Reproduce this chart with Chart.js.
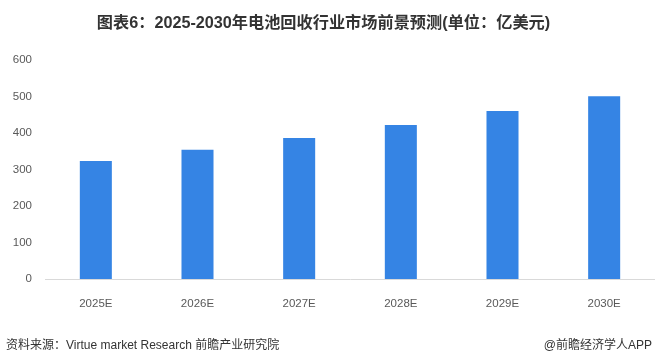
<!DOCTYPE html>
<html>
<head>
<meta charset="utf-8">
<script src="https://cdn.jsdelivr.net/npm/chart.js@4.4.1/dist/chart.umd.min.js"></script>
<style>
    html, body { margin: 0; padding: 0; background: #fff; }
    #wrap { position: relative; width: 655px; height: 363px; overflow: hidden; }
    #title {
        position: absolute; left: -4px; top: 9px; width: 655px; text-align: center;
        font: bold 16.2px "Liberation Sans", "Noto Sans CJK SC", sans-serif; color: #333;
    }
    .foot {
        position: absolute; top: 335px;
        font: 12px "Liberation Sans", "Noto Sans CJK SC", sans-serif; color: #333;
    }
</style>
</head>
<body>
<div id="wrap">
    <canvas id="chart" width="655" height="363"></canvas>
    <div id="title">图表6：2025-2030年电池回收行业市场前景预测(单位：亿美元)</div>
    <div class="foot" style="left:6px;">资料来源：Virtue market Research 前瞻产业研究院</div>
    <div class="foot" style="right:3px;">@前瞻经济学人APP</div>
</div>
<script>
// Chart data
const years = ['2025E', '2026E', '2027E', '2028E', '2029E', '2030E'];
const marketSize = [323, 354, 386, 422, 460, 501];
const yTicks = [0, 100, 200, 300, 400, 500, 600];

const ctx = document.getElementById('chart').getContext('2d');
new Chart(ctx, {
    type: 'bar',
    data: {
        labels: years,
        datasets: [{
            data: marketSize,
            backgroundColor: '#3584e4',
            categoryPercentage: 1,
            barPercentage: 0.315
        }]
    },
    options: {
        responsive: false,
        animation: false,
        layout: { padding: { top: 60, right: 0, bottom: 0, left: 0 } },
        plugins: {
            legend: { display: false },
            tooltip: { enabled: false }
        },
        scales: {
            x: {
                grid: { display: false },
                border: { display: true, color: '#d9d9d9', width: 1 },
                ticks: {
                    color: '#595959',
                    padding: 10,
                    font: { size: 11.5, family: '"Liberation Sans", sans-serif' }
                },
                afterFit: function(scale) { scale.height = 84; }
            },
            y: {
                min: 0,
                max: 600,
                afterBuildTicks: function(scale) {
                    scale.ticks = yTicks.map(v => ({ value: v }));
                },
                grid: { display: false },
                border: { display: false },
                ticks: {
                    color: '#595959',
                    padding: 5,
                    font: { size: 11.5, family: '"Liberation Sans", sans-serif' }
                },
                afterFit: function(scale) { scale.width = 45; }
            }
        }
    }
});
</script>
</body>
</html>
